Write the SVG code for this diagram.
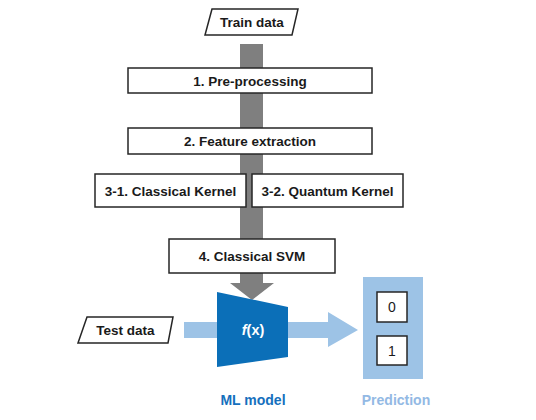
<svg xmlns="http://www.w3.org/2000/svg" width="536" height="420" viewBox="0 0 536 420">
<style>
.box{fill:#fff;stroke:#262626;stroke-width:1.5}
.t{font-family:"Liberation Sans",Arial,sans-serif;font-weight:bold;font-size:13.5px;fill:#1a1a1a;text-anchor:middle}
.lbl{font-family:"Liberation Sans",Arial,sans-serif;font-weight:bold;font-size:14px;text-anchor:middle}
.num{font-family:"Liberation Sans",Arial,sans-serif;font-size:14px;fill:#1a1a1a;text-anchor:middle}
</style>
<rect width="536" height="420" fill="#fff"/>
<g id="connectors">
<path id="train-flow" d="M240,44 H263 V283 H274 L252,300 L230,283 H240 Z" fill="#7f7f7f"/>
<path id="test-flow" d="M184,322 H328 V312 L358,330 L328,347 V338 H184 Z" fill="#9dc3e6"/>
</g>
<g id="train-data">
<polygon class="box" points="212,9 298,9 292,35 205,35"/>
<text class="t" x="252" y="27">Train data</text>
</g>
<g id="pre-processing">
<rect class="box" x="128" y="68" width="244" height="25"/>
<text class="t" x="250" y="85.5">1. Pre-processing</text>
</g>
<g id="feature-extraction">
<rect class="box" x="128" y="128" width="244" height="26"/>
<text class="t" x="250" y="146">2. Feature extraction</text>
</g>
<g id="classical-kernel">
<rect class="box" x="95" y="174" width="151" height="33"/>
<text class="t" x="170.5" y="195.5">3-1. Classical Kernel</text>
</g>
<g id="quantum-kernel">
<rect class="box" x="252" y="174" width="151" height="33"/>
<text class="t" x="327.5" y="195.5">3-2. Quantum Kernel</text>
</g>
<g id="classical-svm">
<rect class="box" x="169" y="239" width="166" height="34"/>
<text class="t" x="252" y="261">4. Classical SVM</text>
</g>
<g id="test-data">
<polygon class="box" points="87,317 173,317 168,343 78,343"/>
<text class="t" x="125.5" y="335">Test data</text>
</g>
<g id="ml-model">
<polygon points="217,292 288,307 288,357 217,367" fill="#0b6fb8"/>
<text x="253" y="335" font-family="Liberation Sans,Arial,sans-serif" font-weight="bold" font-size="14.5" fill="#fff" text-anchor="middle"><tspan font-style="italic">f</tspan>(x)</text>
<text class="lbl" x="253" y="405" fill="#1570bd">ML model</text>
</g>
<g id="prediction">
<rect x="363" y="277" width="60" height="102" fill="#9dc3e6"/>
<rect class="box" x="377" y="292" width="30" height="30" stroke-width="1.2"/>
<text class="num" x="392" y="312">0</text>
<rect class="box" x="377" y="336" width="30" height="29" stroke-width="1.2"/>
<text class="num" x="392" y="355.5">1</text>
<text class="lbl" x="396" y="405" fill="#93b9e4">Prediction</text>
</g>
</svg>
